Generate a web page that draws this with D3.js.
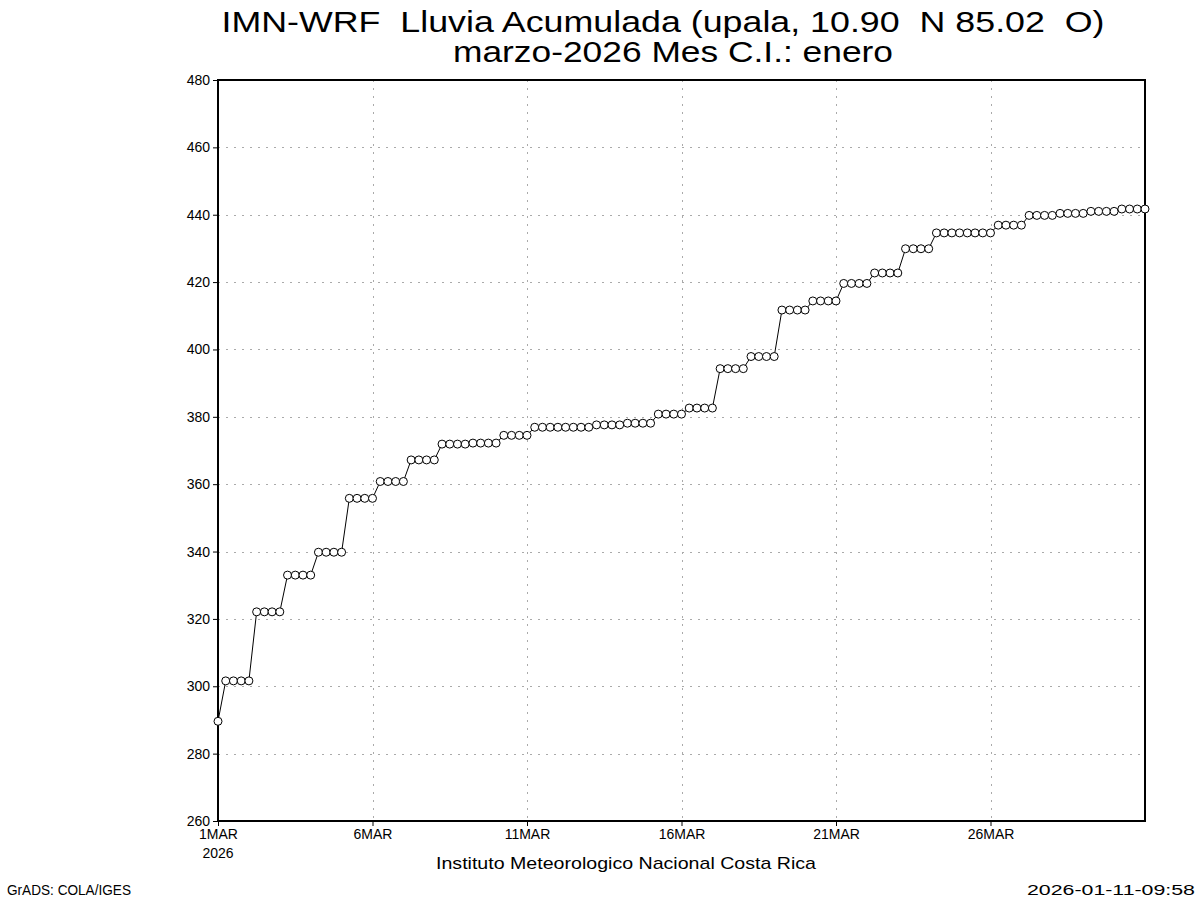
<!DOCTYPE html>
<html>
<head>
<meta charset="utf-8">
<script src="https://cdn.jsdelivr.net/npm/d3@7"></script>
<style>
  html, body { margin: 0; padding: 0; background: #fff; }
  svg { display: block; }
  text { font-family: 'Liberation Sans', Arial, sans-serif; fill: #000; white-space: pre; }
</style>
</head>
<body>
<svg id="chart" width="1200" height="900"></svg>
<script>
// ---- Data (6-hourly accumulated rainfall, mm) ----
const startDate = "2026-03-01T00:00:00Z";
const stepHours = 6;
const rainValues = [
  289.6,
  301.6, 301.6, 301.6, 301.6,
  322.1, 322.1, 322.1, 322.1,
  333.0, 333.0, 333.0, 333.0,
  339.8, 339.8, 339.8, 339.8,
  355.8, 355.8, 355.8, 355.8,
  360.8, 360.8, 360.8, 360.8,
  367.2, 367.2, 367.2, 367.2,
  371.9, 371.9, 371.9, 371.9, 372.2, 372.2, 372.2, 372.2,
  374.5, 374.5, 374.5, 374.5,
  376.9, 376.9, 376.9, 376.9, 376.9, 376.9, 376.9, 376.9,
  377.6, 377.6, 377.6, 377.6,
  378.1, 378.1, 378.1, 378.1,
  380.8, 380.8, 380.8, 380.8,
  382.6, 382.6, 382.6, 382.6,
  394.3, 394.3, 394.3, 394.3,
  397.9, 397.9, 397.9, 397.9,
  411.7, 411.7, 411.7, 411.7,
  414.4, 414.4, 414.4, 414.4,
  419.6, 419.6, 419.6, 419.6,
  422.7, 422.7, 422.7, 422.7,
  429.9, 429.9, 429.9, 429.9,
  434.6, 434.6, 434.6, 434.6, 434.6, 434.6, 434.6, 434.6,
  436.9, 436.9, 436.9, 436.9,
  439.8, 439.8, 439.8, 439.8,
  440.4, 440.4, 440.4, 440.4,
  441.0, 441.0, 441.0, 441.0,
  441.7, 441.7, 441.7, 441.7
];
const yTicks = [260, 280, 300, 320, 340, 360, 380, 400, 420, 440, 460, 480];
const xTickDates = ["2026-03-01", "2026-03-06", "2026-03-11", "2026-03-16", "2026-03-21", "2026-03-26"];
const xTickLabels = ["1MAR", "6MAR", "11MAR", "16MAR", "21MAR", "26MAR"];
const xDomain = ["2026-03-01T00:00:00Z", "2026-03-31T00:00:00Z"];
const yDomain = [260, 480];
const titleLines = ["IMN-WRF  Lluvia Acumulada (upala, 10.90  N 85.02  O)", "marzo-2026 Mes C.I.: enero"];
const yearLabel = "2026";
const footerCenter = "Instituto Meteorologico Nacional Costa Rica";
const footerLeft = "GrADS: COLA/IGES";
const footerRight = "2026-01-11-09:58";

// ---- Layout ----
const L = 218, R = 1145, T = 80, B = 821;
const svg = d3.select("#chart");

const t0 = new Date(startDate).getTime();
const data = rainValues.map((v, i) => ({ t: new Date(t0 + i * stepHours * 3600e3), v }));

const x = d3.scaleUtc().domain(xDomain.map(d => new Date(d))).range([L, R]);
const y = d3.scaleLinear().domain(yDomain).range([B, T]);

// grid
const grid = svg.append("g").attr("stroke", "#aaa").attr("stroke-width", 1).attr("stroke-dasharray", "2,6");
grid.selectAll("line.h").data(yTicks.slice(1, -1)).join("line")
  .attr("x1", L).attr("x2", R)
  .attr("y1", d => Math.round(y(d)) + 0.5).attr("y2", d => Math.round(y(d)) + 0.5);
grid.selectAll("line.v").data(xTickDates.slice(1)).join("line")
  .attr("y1", T).attr("y2", B)
  .attr("x1", d => Math.round(x(new Date(d + "T00:00:00Z"))) + 0.5)
  .attr("x2", d => Math.round(x(new Date(d + "T00:00:00Z"))) + 0.5);

// axes
const yAxis = d3.axisLeft(y).tickValues(yTicks).tickSize(5).tickPadding(3).tickFormat(d3.format("d"));
const gy = svg.append("g").attr("transform", `translate(${L},0)`).call(yAxis);
gy.select(".domain").remove();
gy.selectAll("text").style("font-size", "14px").attr("fill", "#000");
gy.selectAll("line").attr("stroke", "#000");

const xAxis = d3.axisBottom(x)
  .tickValues(xTickDates.map(d => new Date(d + "T00:00:00Z")))
  .tickSize(5).tickPadding(3)
  .tickFormat((d, i) => xTickLabels[i]);
const gx = svg.append("g").attr("transform", `translate(0,${B})`).call(xAxis);
gx.select(".domain").remove();
gx.selectAll("text").style("font-size", "14px").attr("fill", "#000");
gx.selectAll("line").attr("stroke", "#000");

svg.append("text").attr("x", x(new Date(xTickDates[0] + "T00:00:00Z"))).attr("y", 858)
  .attr("text-anchor", "middle").style("font-size", "14px").text(yearLabel);

// frame
svg.append("rect").attr("x", L).attr("y", T).attr("width", R - L).attr("height", B - T)
  .attr("fill", "none").attr("stroke", "#000").attr("stroke-width", 2);

// line + markers
const line = d3.line().x(d => x(d.t)).y(d => y(d.v));
svg.append("path").datum(data).attr("d", line).attr("fill", "none").attr("stroke", "#000").attr("stroke-width", 1);
svg.append("g").selectAll("circle").data(data).join("circle")
  .attr("cx", d => x(d.t)).attr("cy", d => y(d.v)).attr("r", 4)
  .attr("fill", "#fff").attr("stroke", "#000").attr("stroke-width", 1);

// titles
svg.append("text").attr("x", 663).attr("y", 32).attr("text-anchor", "middle")
  .style("font-size", "29px").attr("textLength", 883).attr("lengthAdjust", "spacingAndGlyphs").text(titleLines[0]);
svg.append("text").attr("x", 673).attr("y", 62).attr("text-anchor", "middle")
  .style("font-size", "29px").attr("textLength", 440).attr("lengthAdjust", "spacingAndGlyphs").text(titleLines[1]);

// footers
svg.append("text").attr("x", 626).attr("y", 869).attr("text-anchor", "middle")
  .style("font-size", "17px").attr("textLength", 380).attr("lengthAdjust", "spacingAndGlyphs").text(footerCenter);
svg.append("text").attr("x", 7).attr("y", 895)
  .style("font-size", "14px").attr("textLength", 124).attr("lengthAdjust", "spacingAndGlyphs").text(footerLeft);
svg.append("text").attr("x", 1195).attr("y", 895).attr("text-anchor", "end")
  .style("font-size", "14px").attr("textLength", 168).attr("lengthAdjust", "spacingAndGlyphs").text(footerRight);
</script>
</body>
</html>
